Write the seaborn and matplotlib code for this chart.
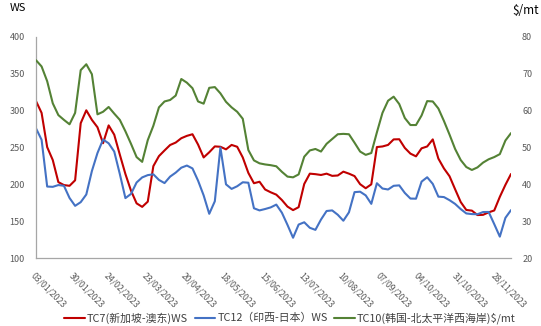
import matplotlib
matplotlib.use('Agg')
import matplotlib.pyplot as plt
import matplotlib.dates as mdates
from matplotlib.lines import Line2D
import seaborn as sns
import pandas as pd

sns.set_theme(style='white')
plt.rcParams['font.family'] = ['Noto Sans CJK SC', 'DejaVu Sans']
plt.rcParams['axes.unicode_minus'] = False

# ---------------- data ----------------
dates = pd.date_range('2023-01-03', periods=86, freq='4D')

tick_labels = ['03/01/2023', '30/01/2023', '24/02/2023', '23/03/2023', '20/04/2023',
               '18/05/2023', '15/06/2023', '13/07/2023', '10/08/2023', '07/09/2023',
               '04/10/2023', '31/10/2023', '28/11/2023']

tc7_ws = [313, 297, 250.5, 233, 203, 199, 198, 205.5, 283, 300.5,
          287.5, 277.5, 255.8, 280, 267.4, 240.3, 214, 191.4, 174.2, 169.4,
          176.5, 224.7, 238.3, 246, 253.4, 256.7, 262.6, 265.8, 268, 254,
          236.5, 243.5, 251.5, 251, 247.5, 253.5, 251, 236.5, 215.5, 201.5,
          203.5, 193, 189.2, 186, 178.7, 169.8, 165, 169, 200.5, 214.5,
          213.8, 212.7, 214.5, 211.5, 212, 217.2, 214.5, 211.2, 200.2, 194.7,
          200, 250.6, 251.4, 253.5, 261, 261.2, 249.4, 241.7, 238, 248.9,
          251.4, 261, 235, 221.6, 211, 193.3, 176, 165.2, 164.3, 158.3,
          158.6, 162, 164.5, 183, 199.3, 214]

tc12_ws = [276, 260.5, 197, 196.6, 199, 198, 181.5, 170.8, 175.8, 186.2,
           218, 242.5, 260.8, 255.7, 244.5, 214, 181.3, 187, 202.5, 209.4,
           212.5, 213.6, 206, 201.7, 210.5, 215.9, 222.6, 225.5, 221.6, 205,
           185, 160, 177, 250, 200, 193.8, 197.4, 202.8, 202.2, 167.5,
           164.6, 166.5, 168.7, 172.5, 161.5, 145, 127.5, 145.4, 148.5, 141,
           138.2, 152.2, 163.8, 164.6, 158.7, 150.6, 162, 189.4, 190, 185,
           173.5, 201.5, 194.3, 193, 198, 198.6, 188.3, 180.7, 180.5, 203.7,
           209.6, 200.6, 183.3, 182.7, 178.5, 173.4, 166.4, 160.5, 159.6, 159.4,
           162.4, 162.5, 146, 129, 154.5, 165]

tc10_usd = [73.7, 72.0, 68.0, 62.0, 58.8, 57.5, 56.3, 59.4, 71.0, 72.6,
            69.9, 59.0, 59.7, 61.0, 59.2, 57.5, 54.4, 51.0, 47.4, 46.1,
            52.0, 55.9, 60.9, 62.5, 62.9, 64.1, 68.6, 67.6, 66.1, 62.5,
            61.9, 66.2, 66.4, 64.7, 62.4, 60.9, 59.7, 57.8, 49.3, 46.5,
            45.7, 45.4, 45.2, 44.9, 43.4, 42.1, 41.9, 42.7, 47.5, 49.2,
            49.6, 48.9, 51.0, 52.3, 53.6, 53.7, 53.6, 51.3, 48.9, 48.0,
            48.5, 54.1, 59.4, 62.7, 63.8, 61.8, 58.0, 56.1, 56.1, 58.7,
            62.6, 62.5, 60.6, 57.2, 53.5, 49.6, 46.6, 44.7, 43.9, 44.6,
            45.9, 46.8, 47.4, 48.2, 51.9, 53.9]

series_labels = ['TC7(新加坡-澳东)WS', 'TC12（印西-日本）WS', 'TC10(韩国-北太平洋西海岸)\\$/mt']
colors = ['#C00000', '#4472C4', '#548235']

df = pd.DataFrame({'date': dates, 'tc7': tc7_ws, 'tc12': tc12_ws, 'tc10': tc10_usd})

# ---------------- figure ----------------
W, H = 541, 326
fig = plt.figure(figsize=(W / 100, H / 100), dpi=100)
ax = fig.add_axes([36 / W, 1 - 258 / H, (511 - 36) / W, (258 - 37) / H])
ax2 = ax.twinx()

lw = 1.5
sns.lineplot(data=df, x='date', y='tc7', ax=ax, color=colors[0], lw=lw, legend=False)
sns.lineplot(data=df, x='date', y='tc12', ax=ax, color=colors[1], lw=lw, legend=False)
sns.lineplot(data=df, x='date', y='tc10', ax=ax2, color=colors[2], lw=lw, legend=False)

ax.set_ylim(100, 400)
ax.set_yticks(range(100, 401, 50))
ax2.set_ylim(20, 80)
ax2.set_yticks(range(20, 81, 10))
ax.set_xlim(dates[0], dates[-1])

tick_pos = pd.to_datetime(tick_labels, format='%d/%m/%Y')
ax.set_xticks(tick_pos)
ax.set_xticklabels(tick_labels)

for a in (ax, ax2):
    a.set_xlabel('')
    a.set_ylabel('')
    a.grid(False)
    for s in a.spines.values():
        s.set_visible(False)

ax.spines['left'].set_visible(True)
ax.spines['left'].set_color('#A6A6A6')
ax.spines['left'].set_linewidth(0.9)
ax.spines['bottom'].set_visible(True)
ax.spines['bottom'].set_color('#A6A6A6')
ax.spines['bottom'].set_linewidth(0.9)

tick_color = '#595959'
ax.tick_params(axis='y', length=0, pad=8, labelsize=6.5, labelcolor=tick_color)
ax2.tick_params(axis='y', length=0, pad=8, labelsize=6.5, labelcolor=tick_color)
ax.tick_params(axis='x', length=0, pad=9, labelsize=6.3, labelcolor=tick_color)
for lab in ax.get_xticklabels():
    lab.set_rotation(-45)
    lab.set_ha('left')
    lab.set_va('top')
    lab.set_rotation_mode('anchor')

fig.text(10 / W, 1 - 8 / H, 'WS', fontsize=8, color='#000000', va='center', ha='left')
fig.text(539 / W, 1 - 11 / H, '\\$/mt', fontsize=8.5, color='#000000', va='center', ha='right')

handles = [Line2D([0], [0], color=c, lw=lw) for c in colors]
fig.legend(handles, series_labels, loc='center', bbox_to_anchor=(290 / W, 8 / H),
           ncol=3, frameon=False, fontsize=7.8, handlelength=1.9, handletextpad=0.2,
           columnspacing=0.6, labelcolor='#404040')

fig.savefig('out.png', dpi=100)
